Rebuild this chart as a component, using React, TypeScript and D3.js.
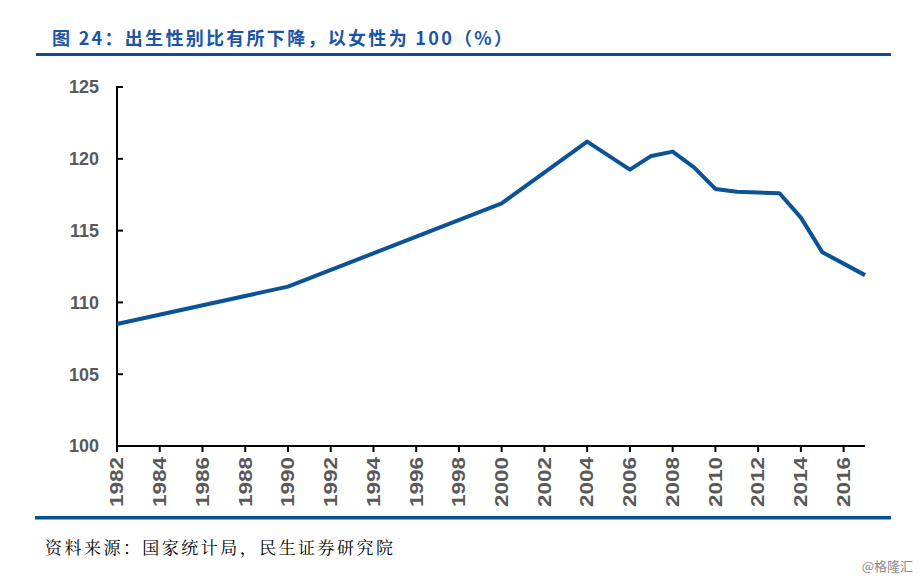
import React from "react";
import * as d3 from "d3";

const years = [1982, 1990, 2000, 2004, 2006, 2007, 2008, 2009, 2010, 2011, 2012, 2013, 2014, 2015, 2016, 2017];
const ratio = [108.5, 111.1, 116.9, 121.2, 119.25, 120.2, 120.5, 119.4, 117.9, 117.7, 117.65, 117.6, 115.9, 113.5, 112.7, 111.9];
const yTicks = [100, 105, 110, 115, 120, 125];
const xTicks = d3.range(1982, 2017, 2);

const W = 921, H = 580;
const L = 117, R = 865, T = 87, B = 446;

export default function App() {
  const x = d3.scaleLinear().domain([1982, 2017]).range([L, R]);
  const y = d3.scaleLinear().domain([100, 125]).range([B, T]);
  const line = d3.line<number>().x((_, i) => x(years[i])).y((d) => y(d));
  const lab = "#595959";
  const blue = "#0c5396";
  return (
    <svg width={W} height={H} style={{ position: "absolute", left: 0, top: 0, background: "#fff" }}>
      <text x={52} y={45} fontFamily="'Noto Sans CJK SC', sans-serif" fontWeight="bold" fontSize={18} fill="#1b55a6"
        textLength={460} lengthAdjust="spacing">
        图 24：出生性别比有所下降，以女性为 100（%）
      </text>
      <rect x={36} y={53} width={855} height={3} fill="#0b4f93" />
      {yTicks.map((t) => (
        <g key={t}>
          <line x1={L} x2={L + 6} y1={y(t)} y2={y(t)} stroke="#000" strokeWidth={2} />
          <text x={99} y={y(t)} dy="0.35em" textAnchor="end" fontFamily="'Liberation Sans', Arial, sans-serif" fontWeight="bold" fontSize={18} fill={lab}>
            {t}
          </text>
        </g>
      ))}
      {xTicks.map((t) => (
        <g key={t}>
          <line x1={x(t)} x2={x(t)} y1={B} y2={B + 6} stroke="#000" strokeWidth={2} />
          <text transform={`translate(${x(t)},${B + 11}) rotate(-90) scale(1.25,1)`} dy="0.35em" textAnchor="end" fontFamily="'Liberation Sans', Arial, sans-serif" fontWeight="bold" fontSize={18} fill={lab}>
            {t}
          </text>
        </g>
      ))}
      <line x1={L} x2={L} y1={T - 1} y2={B + 1} stroke="#000" strokeWidth={2} />
      <line x1={L - 1} x2={R} y1={B} y2={B} stroke="#000" strokeWidth={2} />
      <path d={line(ratio) || ""} fill="none" stroke={blue} strokeWidth={4} strokeLinejoin="round" />
      <rect x={35} y={516} width={856} height={3.5} fill="#0b4f93" />
      <text x={45} y={554} fontFamily="'Noto Serif CJK SC', 'Noto Sans CJK SC', serif" fontSize={17} fill="#000"
        textLength={348} lengthAdjust="spacing">
        资料来源：国家统计局，民生证券研究院
      </text>
      <text x={913} y={571} textAnchor="end" fontFamily="'Noto Sans CJK SC', sans-serif" fontSize={13} fill="#8c8c8c">
        @格隆汇
      </text>
    </svg>
  );
}
